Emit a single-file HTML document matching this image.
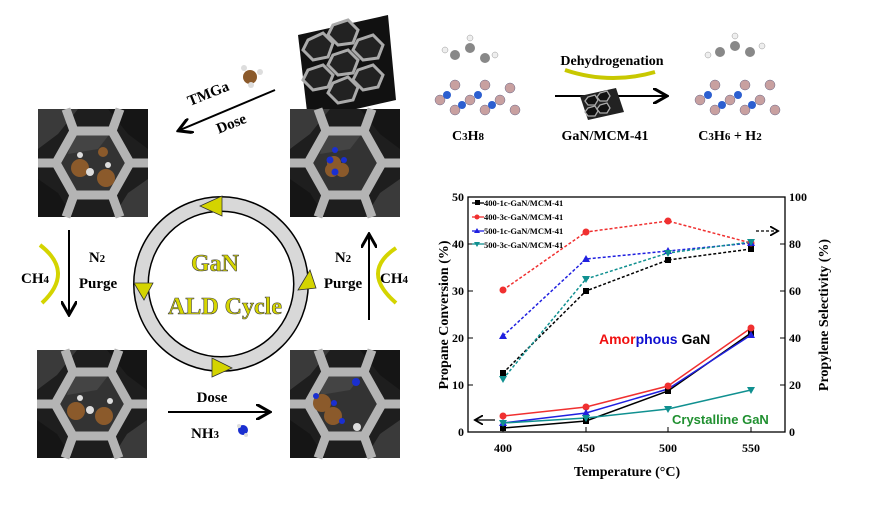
<!DOCTYPE html>
<html><head><meta charset="utf-8"><style>
body{margin:0;background:#fff;width:870px;height:500px;overflow:hidden}
svg text{font-family:"Liberation Serif",serif;font-weight:bold}
</style></head><body>
<svg width="870" height="500" viewBox="0 0 870 500" xmlns="http://www.w3.org/2000/svg">
<defs>
<g id="panel">
<rect x="0" y="0" width="110" height="108" fill="#1e1e1e"/>
<polygon points="0,0 40,0 20,25 0,40" fill="#3a3a3a"/>
<polygon points="70,0 110,0 110,40 90,25" fill="#151515"/>
<polygon points="0,70 20,84 35,108 0,108" fill="#151515"/>
<polygon points="110,70 90,84 75,108 110,108" fill="#3a3a3a"/>
<polygon points="36,22 74,22 92,54 74,86 36,86 18,54" fill="#333"/>
<polygon points="36,22 74,22 60,40 30,45" fill="#444"/>
<g stroke="#b4b4b4" stroke-width="9" fill="none" stroke-linejoin="round">
<polygon points="36,22 74,22 92,54 74,86 36,86 18,54"/>
<line x1="36" y1="22" x2="28" y2="0"/><line x1="74" y1="22" x2="82" y2="0"/>
<line x1="18" y1="54" x2="0" y2="54"/><line x1="92" y1="54" x2="110" y2="54"/>
<line x1="36" y1="86" x2="28" y2="108"/><line x1="74" y1="86" x2="82" y2="108"/>
</g>
</g>
<marker id="ah" markerWidth="8" markerHeight="8" refX="6" refY="4" orient="auto"><path d="M0,0 L7,4 L0,8" fill="none" stroke="#000" stroke-width="1.5"/></marker>
</defs>

<!-- MCM tube top -->
<g transform="translate(288,15)">
<polygon points="10,20 100,0 108,85 20,105" fill="#111"/>
<g fill="#222" stroke="#aaa" stroke-width="3">
<polygon points="20,25 35,18 45,28 40,42 25,45 15,35"/>
<polygon points="45,10 60,5 70,15 65,28 50,30 40,20"/>
<polygon points="45,40 60,35 70,45 65,58 50,60 40,50"/>
<polygon points="70,25 85,20 95,30 90,43 75,45 65,35"/>
<polygon points="20,55 35,50 45,60 40,72 25,75 15,65"/>
<polygon points="45,68 60,62 70,72 65,85 50,88 40,78"/>
<polygon points="70,55 85,50 95,60 90,72 75,75 65,65"/>
</g>
</g>
<circle cx="250" cy="77" r="7" fill="#8b5a2b"/>
<circle cx="244" cy="68" r="3" fill="#ddd"/><circle cx="260" cy="72" r="3" fill="#ddd"/><circle cx="251" cy="85" r="3" fill="#ddd"/>

<use href="#panel" x="38" y="109"/>
<use href="#panel" x="290" y="109"/>
<use href="#panel" x="37" y="350"/>
<use href="#panel" x="290" y="350"/>
<circle cx="80" cy="168" r="9" fill="#8b5a2b"/><circle cx="106" cy="178" r="9" fill="#8b5a2b"/><circle cx="103" cy="152" r="5" fill="#8b5a2b"/>
<circle cx="90" cy="172" r="4" fill="#ddd"/><circle cx="80" cy="155" r="3" fill="#ddd"/><circle cx="108" cy="165" r="3" fill="#ddd"/>
<circle cx="334" cy="163" r="7" fill="#8b5a2b"/><circle cx="332" cy="170" r="7" fill="#8b5a2b"/><circle cx="342" cy="170" r="7" fill="#8b5a2b"/>
<circle cx="330" cy="160" r="3.5" fill="#1a2fd0"/><circle cx="335" cy="150" r="3" fill="#1a2fd0"/><circle cx="344" cy="160" r="3" fill="#1a2fd0"/><circle cx="335" cy="172" r="3.5" fill="#1a2fd0"/>
<circle cx="76" cy="411" r="9" fill="#8b5a2b"/><circle cx="104" cy="416" r="9" fill="#8b5a2b"/><circle cx="90" cy="410" r="4" fill="#ddd"/><circle cx="80" cy="398" r="3" fill="#ddd"/><circle cx="110" cy="401" r="3" fill="#ddd"/>
<circle cx="322" cy="403" r="9" fill="#8b5a2b"/><circle cx="333" cy="416" r="9" fill="#8b5a2b"/><circle cx="316" cy="396" r="3" fill="#1a2fd0"/><circle cx="334" cy="403" r="3" fill="#1a2fd0"/><circle cx="342" cy="421" r="3" fill="#1a2fd0"/><circle cx="356" cy="382" r="4" fill="#1a2fd0"/><circle cx="357" cy="427" r="4" fill="#ddd"/>
<circle cx="243" cy="430" r="5" fill="#1a2fd0"/><circle cx="239" cy="426" r="2" fill="#ddd"/><circle cx="246" cy="435" r="2" fill="#ddd"/>

<!-- ring -->
<circle cx="221" cy="284" r="80" fill="none" stroke="#000" stroke-width="16"/>
<circle cx="221" cy="284" r="80" fill="none" stroke="#d8d8d8" stroke-width="13"/>
<g fill="#d4d400" stroke="#333" stroke-width="0.8">
<polygon points="200,206 222,196 222,216"/>
<polygon points="134,283 153,283 144,300"/>
<polygon points="298,290 310,270 316,288"/>
<polygon points="212,358 232,368 212,377"/>
</g>
<text x="215" y="271" font-size="24" fill="#d6d600" stroke="#444" stroke-width="0.6" text-anchor="middle">GaN</text>
<text x="225" y="314" font-size="24" fill="#d6d600" stroke="#444" stroke-width="0.6" text-anchor="middle">ALD Cycle</text>

<line x1="275" y1="90" x2="180" y2="130" stroke="#000" stroke-width="2" marker-end="url(#ah)"/>
<text x="210" y="98" font-size="15" transform="rotate(-22 210 98)" text-anchor="middle">TMGa</text>
<text x="233" y="128" font-size="15" transform="rotate(-22 233 128)" text-anchor="middle">Dose</text>
<line x1="69" y1="230" x2="69" y2="313" stroke="#000" stroke-width="2" marker-end="url(#ah)"/>
<text x="97" y="262" font-size="15" text-anchor="middle">N<tspan font-size="11">2</tspan></text>
<text x="98" y="288" font-size="15" text-anchor="middle">Purge</text>
<text x="35" y="283" font-size="15" text-anchor="middle">CH<tspan font-size="11">4</tspan></text>
<path d="M40,245 Q75,272 42,303" fill="none" stroke="#d4d400" stroke-width="4"/>
<line x1="369" y1="320" x2="369" y2="236" stroke="#000" stroke-width="2" marker-end="url(#ah)"/>
<text x="343" y="262" font-size="15" text-anchor="middle">N<tspan font-size="11">2</tspan></text>
<text x="343" y="288" font-size="15" text-anchor="middle">Purge</text>
<text x="394" y="283" font-size="15" text-anchor="middle">CH<tspan font-size="11">4</tspan></text>
<path d="M396,248 Q360,272 396,303" fill="none" stroke="#d4d400" stroke-width="4"/>
<line x1="168" y1="412" x2="268" y2="412" stroke="#000" stroke-width="2" marker-end="url(#ah)"/>
<text x="212" y="402" font-size="15" text-anchor="middle">Dose</text>
<text x="205" y="438" font-size="15" text-anchor="middle">NH<tspan font-size="11">3</tspan></text>

<!-- reaction top right -->
<g fill="#c8a0a0" stroke="#668" stroke-width="0.5">
<circle cx="440" cy="100" r="5"/><circle cx="455" cy="110" r="5"/><circle cx="470" cy="100" r="5"/><circle cx="485" cy="110" r="5"/><circle cx="500" cy="100" r="5"/><circle cx="515" cy="110" r="5"/><circle cx="455" cy="85" r="5"/><circle cx="485" cy="85" r="5"/><circle cx="510" cy="88" r="5"/>
<circle cx="700" cy="100" r="5"/><circle cx="715" cy="110" r="5"/><circle cx="730" cy="100" r="5"/><circle cx="745" cy="110" r="5"/><circle cx="760" cy="100" r="5"/><circle cx="775" cy="110" r="5"/><circle cx="715" cy="85" r="5"/><circle cx="745" cy="85" r="5"/><circle cx="770" cy="85" r="5"/>
</g>
<g fill="#2c5fd0"><circle cx="447" cy="95" r="4"/><circle cx="462" cy="105" r="4"/><circle cx="478" cy="95" r="4"/><circle cx="492" cy="105" r="4"/><circle cx="708" cy="95" r="4"/><circle cx="722" cy="105" r="4"/><circle cx="738" cy="95" r="4"/><circle cx="752" cy="105" r="4"/></g>
<g fill="#888"><circle cx="455" cy="55" r="5"/><circle cx="470" cy="48" r="5"/><circle cx="485" cy="58" r="5"/><circle cx="720" cy="52" r="5"/><circle cx="735" cy="46" r="5"/><circle cx="750" cy="52" r="5"/></g>
<g fill="#eee" stroke="#999" stroke-width="0.5"><circle cx="445" cy="50" r="3"/><circle cx="470" cy="38" r="3"/><circle cx="495" cy="55" r="3"/><circle cx="708" cy="55" r="3"/><circle cx="735" cy="36" r="3"/><circle cx="762" cy="46" r="3"/></g>
<text x="612" y="65" font-size="14" text-anchor="middle">Dehydrogenation</text>
<path d="M565,70 Q610,85 655,72" fill="none" stroke="#c8c800" stroke-width="4"/>
<line x1="555" y1="96" x2="665" y2="96" stroke="#000" stroke-width="2" marker-end="url(#ah)"/>
<g transform="translate(580,88)"><polygon points="0,8 36,0 44,24 8,32" fill="#222"/>
<g fill="#111" stroke="#aaa" stroke-width="1.3"><polygon points="8,9 15,7 18,12 15,17 8,17 5,13"/><polygon points="20,5 27,3 30,8 27,13 20,13 17,9"/><polygon points="20,17 27,15 30,20 27,25 20,25 17,21"/><polygon points="8,20 15,18 18,23 15,28 8,28 5,24"/></g></g>
<text x="468" y="140" font-size="14" text-anchor="middle">C<tspan font-size="11">3</tspan>H<tspan font-size="11">8</tspan></text>
<text x="605" y="140" font-size="14" text-anchor="middle">GaN/MCM-41</text>
<text x="730" y="140" font-size="14" text-anchor="middle">C<tspan font-size="11">3</tspan>H<tspan font-size="11">6</tspan> + H<tspan font-size="11">2</tspan></text>

<!-- chart -->
<rect x="468" y="197" width="317" height="235" fill="none" stroke="#000" stroke-width="1.3"/>
<g stroke="#000" stroke-width="1">
<line x1="468" y1="385" x2="473" y2="385"/><line x1="468" y1="338" x2="473" y2="338"/><line x1="468" y1="291" x2="473" y2="291"/><line x1="468" y1="244" x2="473" y2="244"/>
<line x1="785" y1="385" x2="780" y2="385"/><line x1="785" y1="338" x2="780" y2="338"/><line x1="785" y1="291" x2="780" y2="291"/><line x1="785" y1="244" x2="780" y2="244"/>
<line x1="503" y1="432" x2="503" y2="427"/><line x1="586" y1="432" x2="586" y2="427"/><line x1="668" y1="432" x2="668" y2="427"/><line x1="751" y1="432" x2="751" y2="427"/>
</g>
<g font-size="12" text-anchor="end">
<text x="464" y="436">0</text><text x="464" y="389">10</text><text x="464" y="342">20</text><text x="464" y="295">30</text><text x="464" y="248">40</text><text x="464" y="201">50</text>
</g>
<g font-size="12">
<text x="789" y="436">0</text><text x="789" y="389">20</text><text x="789" y="342">40</text><text x="789" y="295">60</text><text x="789" y="248">80</text><text x="789" y="201">100</text>
</g>
<g font-size="12" text-anchor="middle"><text x="503" y="452">400</text><text x="586" y="452">450</text><text x="668" y="452">500</text><text x="751" y="452">550</text></g>
<text x="627" y="476" font-size="14" text-anchor="middle">Temperature (°C)</text>
<text transform="translate(448,315) rotate(-90)" font-size="14" text-anchor="middle">Propane Conversion (%)</text>
<text transform="translate(828,315) rotate(-90)" font-size="14" text-anchor="middle">Propylene Selectivity (%)</text>
<g fill="none" stroke-width="1.5" stroke-dasharray="3,2">
<polyline stroke="#000" points="503,373 586,291 668,260 751,249"/>
<polyline stroke="#f03030" points="503,290 586,232 668,221 751,243"/>
<polyline stroke="#2020e0" points="503,336 586,259 668,251 751,243"/>
<polyline stroke="#109090" points="503,379 586,279 668,253 751,242"/>
</g>
<g fill="none" stroke-width="1.5">
<polyline stroke="#000" points="503,428 586,421 668,391 751,333"/>
<polyline stroke="#f03030" points="503,416 586,407 668,386 751,328"/>
<polyline stroke="#2020e0" points="503,423 586,413 668,389 751,335"/>
<polyline stroke="#109090" points="503,423 586,418 668,409 751,390"/>
</g>
<g fill="#000"><rect x="500" y="370" width="6" height="6"/><rect x="583" y="288" width="6" height="6"/><rect x="665" y="257" width="6" height="6"/><rect x="748" y="246" width="6" height="6"/><rect x="500" y="425" width="6" height="6"/><rect x="583" y="418" width="6" height="6"/><rect x="665" y="388" width="6" height="6"/><rect x="748" y="330" width="6" height="6"/></g>
<g fill="#f03030"><circle cx="503" cy="290" r="3.5"/><circle cx="586" cy="232" r="3.5"/><circle cx="668" cy="221" r="3.5"/><circle cx="751" cy="243" r="3.5"/><circle cx="503" cy="416" r="3.5"/><circle cx="586" cy="407" r="3.5"/><circle cx="668" cy="386" r="3.5"/><circle cx="751" cy="328" r="3.5"/></g>
<g fill="#2020e0"><polygon points="503,332 507,339 499,339"/><polygon points="586,255 590,262 582,262"/><polygon points="668,247 672,254 664,254"/><polygon points="751,239 755,246 747,246"/><polygon points="503,419 507,426 499,426"/><polygon points="586,409 590,416 582,416"/><polygon points="751,331 755,338 747,338"/></g>
<g fill="#109090"><polygon points="499,376 507,376 503,383"/><polygon points="582,276 590,276 586,283"/><polygon points="664,250 672,250 668,257"/><polygon points="747,239 755,239 751,246"/><polygon points="499,420 507,420 503,427"/><polygon points="582,415 590,415 586,422"/><polygon points="664,406 672,406 668,413"/><polygon points="747,387 755,387 751,394"/></g>
<g font-size="8.5">
<line x1="472" y1="203" x2="484" y2="203" stroke="#000" stroke-width="1.3"/><rect x="475" y="200" width="5" height="5"/><text x="484" y="206">400-1c-GaN/MCM-41</text>
<line x1="472" y1="217" x2="484" y2="217" stroke="#f03030" stroke-width="1.3"/><circle cx="477" cy="217" r="2.5" fill="#f03030"/><text x="484" y="220">400-3c-GaN/MCM-41</text>
<line x1="472" y1="231" x2="484" y2="231" stroke="#2020e0" stroke-width="1.3"/><polygon points="477,228 480,233 474,233" fill="#2020e0"/><text x="484" y="234">500-1c-GaN/MCM-41</text>
<line x1="472" y1="244" x2="484" y2="244" stroke="#109090" stroke-width="1.3"/><polygon points="474,242 480,242 477,247" fill="#109090"/><text x="484" y="248">500-3c-GaN/MCM-41</text>
</g>
<text x="599" y="344" font-size="14" style="font-family:'Liberation Sans',sans-serif"><tspan fill="#f01010">Amor</tspan><tspan fill="#1010d0">phous</tspan><tspan fill="#000"> GaN</tspan></text>
<text x="672" y="424" font-size="13" fill="#209030" style="font-family:'Liberation Sans',sans-serif">Crystalline GaN</text>
<line x1="495" y1="420" x2="476" y2="420" stroke="#000" stroke-width="1.2" marker-end="url(#ah)"/>
<line x1="756" y1="231" x2="777" y2="231" stroke="#000" stroke-width="1.2" stroke-dasharray="3,2" marker-end="url(#ah)"/>
</svg>
</body></html>
